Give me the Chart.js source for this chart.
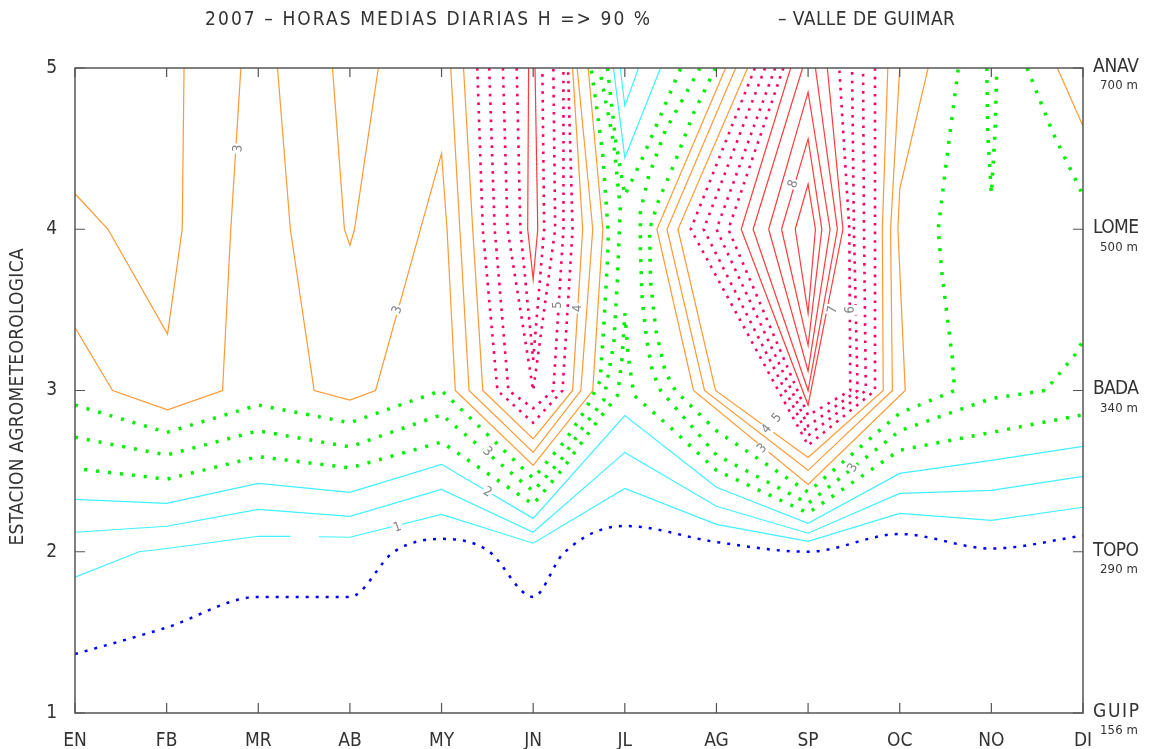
<!DOCTYPE html>
<html>
<head>
<meta charset="utf-8">
<title>Valle de Guimar 2007</title>
<script src="https://cdn.jsdelivr.net/npm/chart.js"></script>
<style>
  html, body { margin: 0; padding: 0; background: #fff; }
  canvas { display: block; }
</style>
</head>
<body>
<canvas id="chart" width="1153" height="749"></canvas>
<script>
// ejes
const months = ['EN','FB','MR','AB','MY','JN','JL','AG','SP','OC','NO','DI'];
const stations = ['GUIP','TOPO','BADA','LOME','ANAV'];
const altitudes = ['156 m','290 m','340 m','500 m','700 m'];

// isolineas: [mes, estacion]
const blue05 = [[0,1.365],[1,1.53],[2,1.72],[3,1.72],[3.48,2.0],[4,2.08],[4.5,2.01],[5,1.72],[5.33,1.99],[6,2.16],[7,2.06],[8,2.0],[9,2.11],[10,2.02],[11,2.10]];

const cyan1 = [[0,1.842],[0.7,2.0],[1,2.02],[2,2.096],[2.35,2.095],[2.5,null],[2.66,2.093],[3,2.09],[4,2.232],[5,2.053],[6,2.393],[7,2.17],[8,2.065],[9,2.238],[10,2.195],[11,2.276]];
const cyan15 = [[0,2.121],[1,2.158],[2,2.263],[3,2.22],[4,2.387],[5,2.121],[6,2.616],[7,2.282],[8,2.115],[9,2.362],[10,2.381],[11,2.467]];
const cyan2 = [[0,2.325],[1,2.30],[2,2.424],[3,2.368],[4,2.542],[5,2.207],[6,2.845],[7,2.40],[8,2.176],[9,2.486],[10,2.567],[11,2.653]];
const cyanTopOuter = [[5.876,5],[6,4.443],[6.39,5]];
const cyanTopInner = [[5.95,5],[6,4.765],[6.15,5]];

const greenLow = [[0.1,2.51],[1,2.45],[2,2.59],[3,2.52],[4,2.68],[5,2.294],[5.33,2.52],[5.62,2.75],[5.92,2.97],[5.97,3.2],[6,3.48],[6.04,3.2],[6.1,2.97],[6.5,2.77],[7,2.505],[8,2.24],[9,2.63],[10,2.74],[11,2.85]];
const greenLowTop = [[5.81,5],[5.9,4.55],[6.0,4.21],[6.2,4.45],[6.61,5]];
const greenMidA = [[0,2.71],[1,2.60],[2,2.75],[3,2.65],[4,2.85],[5,2.375],[5.30,2.567],[5.54,2.77],[5.77,2.94],[5.88,3.29],[5.92,3.70],[5.95,4.13],[5.88,4.53],[5.77,4.86],[5.72,5]];
const greenMidB = [[6.82,5],[6.44,4.61],[6.26,4.33],[6.17,4.11],[6.17,3.87],[6.19,3.56],[6.24,3.31],[6.30,3.12],[6.39,3.0],[7,2.60],[8,2.30],[9,2.75],[10,2.95],[10.59,3.0],[10.91,3.22],[11,3.31]];
const greenTopA = [[0,2.91],[1,2.74],[2,2.91],[3,2.80],[4,3.0],[5,2.455],[5.35,2.69],[5.57,2.88],[5.73,3.06],[5.77,3.39],[5.81,3.80],[5.82,3.97],[5.76,4.46],[5.68,4.81],[5.63,5]];
const greenTopB = [[6.99,5],[6.75,4.72],[6.55,4.42],[6.37,4.18],[6.27,4.0],[6.28,3.68],[6.34,3.37],[6.44,3.12],[6.55,3.0],[7,2.75],[8,2.37],[9,2.86],[9.6,3.0],[9.57,3.22],[9.46,3.73],[9.42,4.0],[9.52,4.47],[9.64,5]];
const greenNO = [[9.95,5],[9.96,4.6],[10,4.22],[10.04,4.6],[10.06,5]];
const greenDI = [[10.39,5],[10.67,4.6],[11,4.21]];

const orangeA = [[0,4.22],[0.36,4.0],[1.01,3.35],[1.17,4.0],[1.19,5]];
const orangeB = [[0,3.39],[0.41,3.0],[1.01,2.88],[1.61,3.0],[1.70,4.0],[1.81,5]];
const orangeAB = [[2.81,5],[2.94,4.0],[3.0,3.90],[3.05,4.0],[3.31,5]];
const orangeC = [[2.21,5],[2.35,4],[2.61,3],[3,2.94],[3.28,3],[4,4.47],[4.06,4],[4.15,3],[5,2.536],[5.65,3],[5.76,4],[5.60,5]];
const orangeE = [[4.10,5],[4.20,4],[4.30,3],[5,2.616],[5.52,3],[5.65,4],[5.48,5]];
const orangeF = [[4.24,5],[4.34,4],[4.45,3],[5,2.70],[5.43,3],[5.54,4],[5.43,5]];
const orangeS1 = [[7.34,5],[6.58,4],[6.99,3],[8,2.585],[8.82,3],[8.81,4],[8.87,5]];
const orangeS2 = [[7.21,5],[6.46,4],[6.87,3],[8,2.505],[8.92,3],[8.90,4],[9.0,5]];
const orangeS3 = [[7.10,5],[6.35,4],[6.75,3],[8,2.418],[9.06,3],[8.98,4],[9.0,4.25],[9.31,5]];
const orangeDI = [[10.72,5],[11,4.64]];

const pinkJN1 = [[4.39,5],[4.45,4],[4.61,3],[5,2.80],[5.32,3],[5.43,4],[5.38,5]];
const pinkJN2 = [[4.52,5],[4.58,4],[4.73,3],[5,2.89],[5.22,3],[5.33,4],[5.33,5]];
const pinkJN3 = [[4.67,5],[4.72,4],[5,3.0],[5.24,4],[5.22,5]];
const pinkJN4 = [[4.82,5],[4.86,4],[5,3.19],[5.12,4],[5.10,5]];
const pinkSP1 = [[7.42,5],[6.72,4],[8,2.66],[8.73,3],[8.73,4],[8.73,5]];
const pinkSP2 = [[7.53,5],[6.86,4],[8,2.72],[8.63,3],[8.61,4],[8.60,5]];
const pinkSP3 = [[7.64,5],[7.0,4],[8,2.78],[8.54,3],[8.50,4],[8.48,5]];
const pinkSP4 = [[7.73,5],[7.13,4],[8,2.845],[8.46,3],[8.45,4],[8.34,5]];

const redJN = [[4.95,5],[4.94,4],[5,3.69],[5.05,4],[5.02,5]];
const redSP1 = [[7.86,4],[8,4.28],[8.08,4],[8,3.48],[7.86,4]];
const redSP2 = [[7.71,4],[8,4.56],[8.15,4],[8,3.28],[7.71,4]];
const redSP3 = [[7.57,4],[8,4.85],[8.24,4],[8,3.12],[7.57,4]];
const redSP4 = [[7.94,5],[7.40,4],[8,3.0],[8.32,4],[8.08,5]];
const redSP5 = [[7.81,5],[7.27,4],[8,2.91],[8.38,4],[8.21,5]];

// etiquetas de isolineas [texto, mes, estacion, giro]
const contourLabels = [
  ['3',1.78,4.50,-85],['3',3.52,3.50,-72],['5',5.27,3.53,-90],['4',5.48,3.51,-90],
  ['8',7.84,4.28,-70],['7',8.27,3.50,-80],['6',8.46,3.50,-88],
  ['3',4.50,2.62,45],['2',4.50,2.37,30],['1',3.52,2.15,-20],
  ['4',7.55,2.76,-50],['5',7.66,2.83,-50],['3',7.50,2.64,-45],['3',8.49,2.52,-60]
];

const FONT = '"Liberation Sans Narrow", "DejaVu Sans Condensed", "Liberation Sans", sans-serif';
const styles = {
  blue:   { borderColor: '#0000ff', borderWidth: 2.5, borderDash: [3, 7], cubicInterpolationMode: 'monotone' },
  cyan:   { borderColor: '#3ff0ff', borderWidth: 1.2 },
  green:  { borderColor: '#00f000', borderWidth: 3.5, borderDash: [3, 9] },
  orange: { borderColor: '#ff9933', borderWidth: 1.2 },
  pink:   { borderColor: '#ff0066', borderWidth: 2.6, borderDash: [2.6, 6] },
  red:    { borderColor: '#ff3b3b', borderWidth: 1.2 }
};

function series(pts, kind) {
  return Object.assign({
    data: pts.map(p => ({ x: p[0], y: p[1] })),
    pointRadius: 0, fill: false, spanGaps: false, tension: 0
  }, styles[kind]);
}

const datasets = [
  series(blue05, 'blue'),
  series(cyan1, 'cyan'), series(cyan15, 'cyan'), series(cyan2, 'cyan'),
  series(cyanTopOuter, 'cyan'), series(cyanTopInner, 'cyan'),
  series(greenLow, 'green'), series(greenLowTop, 'green'), series(greenMidA, 'green'), series(greenMidB, 'green'),
  series(greenTopA, 'green'), series(greenTopB, 'green'), series(greenNO, 'green'), series(greenDI, 'green'),
  series(orangeA, 'orange'), series(orangeB, 'orange'), series(orangeAB, 'orange'), series(orangeC, 'orange'),
  series(orangeE, 'orange'), series(orangeF, 'orange'),
  series(orangeS1, 'orange'), series(orangeS2, 'orange'), series(orangeS3, 'orange'), series(orangeDI, 'orange'),
  series(pinkJN1, 'pink'), series(pinkJN2, 'pink'), series(pinkJN3, 'pink'), series(pinkJN4, 'pink'),
  series(pinkSP1, 'pink'), series(pinkSP2, 'pink'), series(pinkSP3, 'pink'), series(pinkSP4, 'pink'),
  series(redJN, 'red'), series(redSP1, 'red'), series(redSP2, 'red'), series(redSP3, 'red'),
  series(redSP4, 'red'), series(redSP5, 'red')
];

// texto ajustado a un ancho
function fitText(ctx, text, x, y, width) {
  ctx.letterSpacing = '0px';
  const w = ctx.measureText(text).width;
  const sp = (width - w) / Math.max(1, text.length - 1);
  ctx.letterSpacing = sp.toFixed(2) + 'px';
  ctx.fillText(text, x, y);
  ctx.letterSpacing = '0px';
}

// marco, marcas, textos
const decor = {
  id: 'decor',
  afterDatasetsDraw(chart) {
    const { ctx, chartArea: a, scales: { x, y } } = chart;
    ctx.save();
    // etiquetas
    ctx.font = '13px ' + FONT;
    ctx.textAlign = 'center';
    ctx.textBaseline = 'middle';
    contourLabels.forEach(([t, mx, my, rot]) => {
      ctx.save();
      ctx.translate(x.getPixelForValue(mx), y.getPixelForValue(my));
      ctx.rotate(rot * Math.PI / 180);
      ctx.fillStyle = '#fff';
      ctx.fillRect(-5, -7, 10, 14);
      ctx.fillStyle = '#808080';
      ctx.fillText(t, 0, 0);
      ctx.restore();
    });
    // marco
    ctx.strokeStyle = '#555';
    ctx.lineWidth = 1.5;
    ctx.strokeRect(a.left, a.top, a.right - a.left, a.bottom - a.top);
    ctx.lineWidth = 1.2;
    ctx.beginPath();
    months.forEach((m, i) => {
      const px = x.getPixelForValue(i);
      ctx.moveTo(px, a.bottom); ctx.lineTo(px, a.bottom - 10);
      ctx.moveTo(px, a.top); ctx.lineTo(px, a.top + 9);
    });
    stations.forEach((s, i) => {
      const py = y.getPixelForValue(i + 1);
      ctx.moveTo(a.left, py); ctx.lineTo(a.left + 10, py);
      ctx.moveTo(a.right, py); ctx.lineTo(a.right - 10, py);
    });
    ctx.stroke();
    // estaciones
    ctx.fillStyle = '#333';
    ctx.textAlign = 'left';
    stations.forEach((s, i) => {
      const py = y.getPixelForValue(i + 1);
      ctx.font = '19px ' + FONT;
      fitText(ctx, s, a.right + 10, py - 1, 46);
      ctx.font = '13px ' + FONT;
      fitText(ctx, altitudes[i], a.right + 17, py + 18, 38);
    });
    // titulo eje
    ctx.save();
    ctx.translate(18, (a.top + a.bottom) / 2);
    ctx.rotate(-Math.PI / 2);
    ctx.textAlign = 'left';
    ctx.font = '19px ' + FONT;
    fitText(ctx, 'ESTACION AGROMETEOROLOGICA', -155, 0, 297);
    ctx.restore();
    // titulo
    ctx.font = '19px ' + FONT;
    ctx.textAlign = 'left';
    fitText(ctx, '2007 \u2013 HORAS MEDIAS DIARIAS H => 90 %', 205, 20, 445);
    fitText(ctx, '\u2013 VALLE DE GUIMAR', 778, 20, 177);
    ctx.restore();
  }
};

new Chart(document.getElementById('chart').getContext('2d'), {
  type: 'line',
  data: { datasets },
  options: {
    responsive: false,
    animation: false,
    layout: { padding: { top: 68, right: 70, left: 0, bottom: 0 } },
    plugins: { legend: { display: false }, tooltip: { enabled: false } },
    scales: {
      x: {
        type: 'linear', min: 0, max: 11,
        grid: { display: false, drawTicks: false }, border: { display: false },
        ticks: { stepSize: 1, autoSkip: false, maxRotation: 0, padding: 17, color: '#333',
                 font: { family: FONT, size: 19 }, callback: v => months[v] },
        afterFit: s => { s.height = 36; }
      },
      y: {
        type: 'linear', min: 1, max: 5,
        grid: { display: false, drawTicks: false }, border: { display: false },
        ticks: { stepSize: 1, padding: 18, color: '#333', font: { family: FONT, size: 19 } },
        afterFit: s => { s.width = 75; }
      }
    }
  },
  plugins: [decor]
});
</script>
</body>
</html>
